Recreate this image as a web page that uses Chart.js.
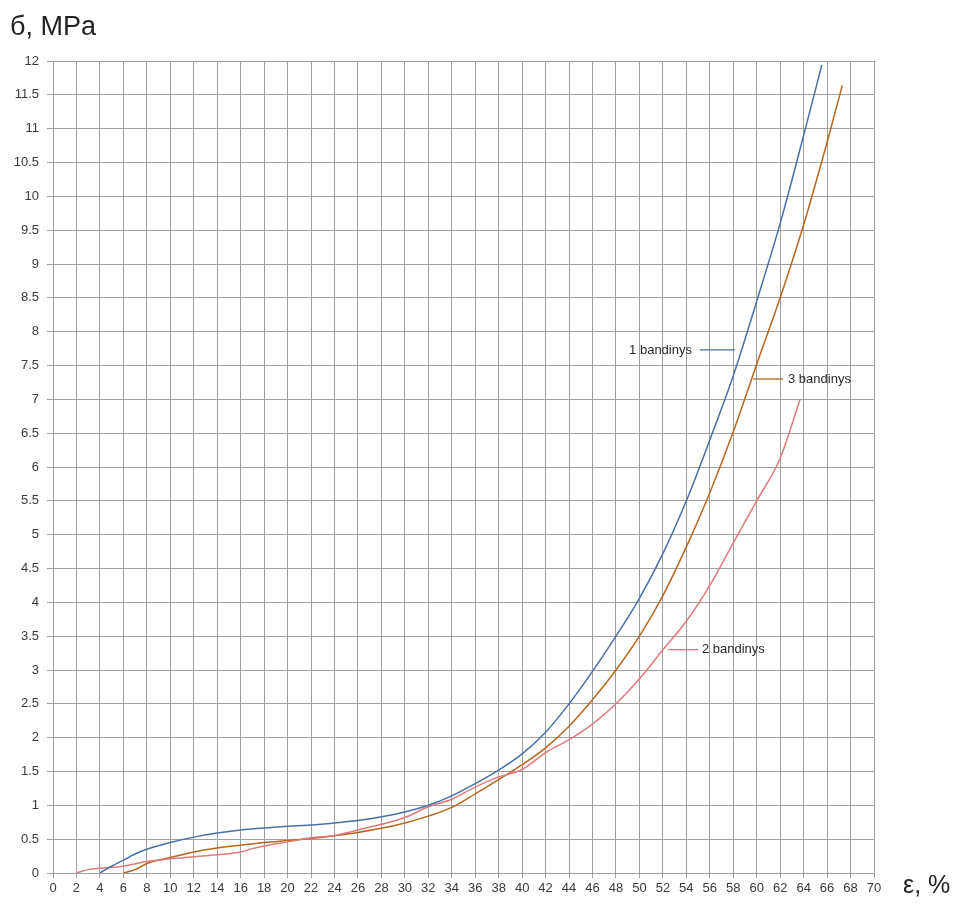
<!DOCTYPE html>
<html>
<head>
<meta charset="utf-8">
<title>б–ε</title>
<script src="https://cdn.jsdelivr.net/npm/chart.js@4/dist/chart.umd.min.js"></script>
<style>
  html, body { margin: 0; padding: 0; background: #fff; }
  #wrap { width: 957px; height: 905px; position: relative; }
</style>
</head>
<body>
<div id="wrap"><canvas id="c" width="957" height="905"></canvas></div>
<script>
// Strain (%) and stress (MPa) for each specimen
const strain1 = [4, 5, 6, 7, 8, 10, 12, 14, 16, 18, 20, 22, 24, 26, 28, 30, 32, 34, 36, 38, 40, 42, 44, 46, 48, 50, 52, 54, 56, 58, 60, 62, 64, 65.55];
const stress1 = [0, 0.1, 0.19, 0.28, 0.35, 0.45, 0.53, 0.59, 0.635, 0.665, 0.69, 0.71, 0.74, 0.775, 0.83, 0.9, 1.0, 1.14, 1.32, 1.52, 1.76, 2.08, 2.5, 2.98, 3.5, 4.06, 4.72, 5.5, 6.4, 7.35, 8.45, 9.6, 10.9, 11.94];

const strain2 = [2, 3, 4, 6, 8, 10, 12, 14, 16, 17, 18, 20, 22, 24, 26, 28, 30, 32, 34, 36, 38, 40, 42, 44, 46, 48, 50, 52, 54, 56, 58, 60, 62, 63.7];
const stress2 = [0, 0.05, 0.07, 0.1, 0.17, 0.21, 0.24, 0.27, 0.31, 0.36, 0.4, 0.46, 0.52, 0.555, 0.635, 0.72, 0.82, 0.98, 1.09, 1.27, 1.42, 1.53, 1.78, 1.97, 2.2, 2.5, 2.87, 3.3, 3.72, 4.25, 4.88, 5.5, 6.13, 7.0];

const strain3 = [6, 7, 8, 10, 12, 14, 16, 18, 20, 22, 24, 26, 28, 30, 32, 34, 36, 38, 40, 42, 44, 46, 48, 50, 52, 54, 56, 58, 60, 62, 64, 66, 67.3];
const stress3 = [0, 0.05, 0.14, 0.23, 0.31, 0.37, 0.41, 0.45, 0.48, 0.51, 0.55, 0.6, 0.66, 0.74, 0.84, 0.97, 1.17, 1.38, 1.6, 1.85, 2.17, 2.56, 3.0, 3.5, 4.1, 4.82, 5.62, 6.52, 7.52, 8.5, 9.58, 10.8, 11.64];

const seriesNames = ['1 bandinys', '2 bandinys', '3 bandinys'];
const seriesColors = ['#4a6fa8', '#e07a7c', '#b8661e'];

// Axis ranges and steps
const xMin = 0, xMax = 70, xStep = 2;
const yMin = 0, yMax = 12, yStep = 0.5;

// Leader lines for the series labels: [x0, x1, y, textX, align]
const leader1 = [55.16, 58.15, 7.73, 54.48, 'right'];
const leader2 = [52.43, 54.99, 3.3, 55.33, 'left'];
const leader3 = [59.68, 62.24, 7.3, 62.67, 'left'];

const yTitle = 'б, MPa';
const xTitle = 'ε, %';

function pts(xs, ys) { return xs.map((x, i) => ({ x: x, y: ys[i] })); }

const labelPlugin = {
  id: 'labels',
  afterDatasetsDraw(chart) {
    const ctx = chart.ctx;
    const xs = chart.scales.x, ys = chart.scales.y;
    const leaders = [leader1, leader2, leader3];
    ctx.save();
    leaders.forEach((l, i) => {
      const py = ys.getPixelForValue(l[2]);
      ctx.strokeStyle = seriesColors[i];
      ctx.lineWidth = 1.3;
      ctx.beginPath();
      ctx.moveTo(xs.getPixelForValue(l[0]), py);
      ctx.lineTo(xs.getPixelForValue(l[1]), py);
      ctx.stroke();
      ctx.fillStyle = '#2a2a2a';
      ctx.font = '13px "Liberation Sans", Arial, sans-serif';
      ctx.textAlign = l[4];
      ctx.textBaseline = 'middle';
      ctx.fillText(seriesNames[i], xs.getPixelForValue(l[3]), py);
    });
    ctx.fillStyle = '#222';
    ctx.textAlign = 'left';
    ctx.textBaseline = 'alphabetic';
    ctx.font = '27px "Liberation Sans", Arial, sans-serif';
    ctx.fillText(yTitle, 10, 35);
    ctx.font = '25px "Liberation Sans", Arial, sans-serif';
    ctx.fillText(xTitle, 903, 893);
    ctx.restore();
  }
};

const common = { pointRadius: 0, borderWidth: 1.5, fill: false, cubicInterpolationMode: 'monotone', showLine: true };

new Chart(document.getElementById('c'), {
  type: 'scatter',
  data: {
    datasets: [
      Object.assign({ label: seriesNames[0], data: pts(strain1, stress1), borderColor: seriesColors[0] }, common),
      Object.assign({ label: seriesNames[1], data: pts(strain2, stress2), borderColor: seriesColors[1] }, common),
      Object.assign({ label: seriesNames[2], data: pts(strain3, stress3), borderColor: seriesColors[2] }, common)
    ]
  },
  options: {
    responsive: false,
    animation: false,
    layout: { padding: { left: 0, right: 83, top: 61, bottom: 0 } },
    plugins: { legend: { display: false }, tooltip: { enabled: false } },
    scales: {
      x: {
        type: 'linear', min: xMin, max: xMax,
        afterFit(s) { s.height = 32; },
        grid: { color: '#a0a0a0', lineWidth: 1, tickLength: 5, tickColor: '#a0a0a0' },
        border: { color: '#a0a0a0' },
        ticks: { stepSize: xStep, autoSkip: false, maxRotation: 0, padding: 3, color: '#3a3a3a',
                 font: { family: '"Liberation Sans", Arial, sans-serif', size: 13 } }
      },
      y: {
        type: 'linear', min: yMin, max: yMax,
        afterFit(s) { s.width = 53; },
        grid: { color: '#a0a0a0', lineWidth: 1, tickLength: 6, tickColor: '#a0a0a0' },
        border: { color: '#a0a0a0' },
        ticks: { stepSize: yStep, autoSkip: false, padding: 8, color: '#3a3a3a',
                 callback: (v) => String(v),
                 font: { family: '"Liberation Sans", Arial, sans-serif', size: 13 } }
      }
    }
  },
  plugins: [labelPlugin]
});
</script>
</body>
</html>
